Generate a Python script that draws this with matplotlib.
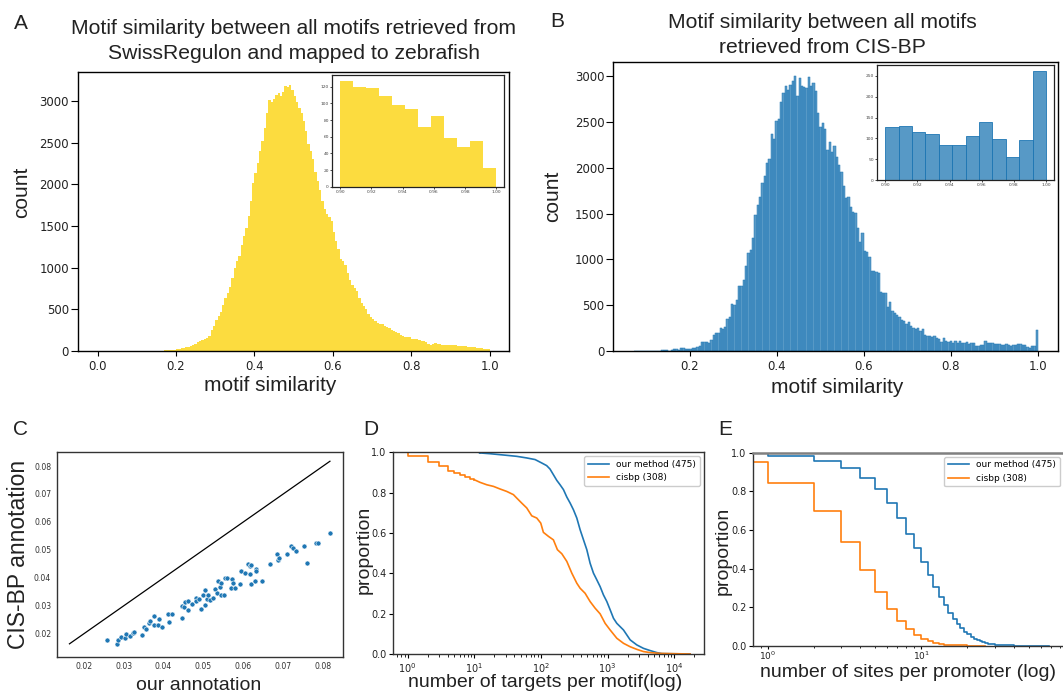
import matplotlib
matplotlib.use('Agg')
import matplotlib.pyplot as plt
import numpy as np

W, H = 1063, 695

# ---------------- data ----------------
# A: SwissRegulon motif similarity histogram (170 bins over 0..1)
sr_counts = [
    0, 0, 0, 0, 0, 0, 0, 0, 0, 0,
    0, 0, 0, 0, 0, 0, 0, 0, 0, 0,
    0, 0, 0, 0, 0, 0, 0, 0, 4, 6,
    10, 12, 14, 17, 20, 24, 30, 36, 44, 52,
    62, 75, 88, 102, 118, 132, 148, 160, 180, 250,
    300, 375, 425, 470, 550, 640, 700, 770, 870, 1000,
    1080, 1140, 1270, 1380, 1470, 1620, 1800, 2010, 2130, 2250,
    2400, 2515, 2680, 2850, 3005, 2990, 3020, 3065, 3090, 3060,
    3110, 3180, 3170, 3185, 3125, 3060, 2990, 2920, 2860, 2760,
    2640, 2480, 2400, 2300, 2145, 2040, 1930, 1800, 1700, 1640,
    1605, 1560, 1430, 1320, 1220, 1100, 1085, 1030, 940, 850,
    790, 760, 720, 630, 580, 540, 505, 440, 405, 385,
    355, 340, 328, 318, 300, 285, 270, 250, 240, 230,
    212, 195, 180, 172, 168, 162, 140, 139, 138, 130,
    124, 115, 104, 82, 76, 78, 92, 86, 82, 76,
    70, 68, 72, 72, 70, 68, 64, 62, 60, 54,
    48, 44, 52, 46, 40, 32, 30, 28, 28, 24,
]
sr_range = (0.0, 1.0)
sr_inset_counts = [127, 120, 118, 109, 98, 93, 72, 85, 58, 48, 55, 22]

# B: CIS-BP motif similarity histogram (174 bins over 0.0705..1)
cb_counts = [
    0, 0, 1, 0, 1, 1, 0, 2, 1, 3,
    2, 4, 8, 11, 11, 5, 10, 22, 22, 10,
    33, 33, 18, 22, 22, 33, 33, 46, 53, 100,
    100, 100, 82, 118, 173, 191, 191, 246, 239, 257,
    344, 366, 508, 497, 555, 709, 709, 775, 928, 1066,
    1102, 1233, 1484, 1593, 1684, 1837, 1910, 2048, 2092, 2368,
    2313, 2510, 2532, 2717, 2812, 2892, 2848, 2903, 2947, 3001,
    2783, 2976, 2892, 2878, 2867, 2987, 2892, 2922, 2838, 2601,
    2448, 2484, 2419, 2193, 2284, 2175, 2237, 2120, 2029, 1957,
    1800, 1666, 1684, 1575, 1513, 1502, 1338, 1193, 1284, 1095,
    1084, 1022, 877, 873, 859, 848, 640, 629, 629, 484,
    535, 436, 411, 393, 375, 338, 327, 295, 313, 277,
    247, 237, 247, 222, 240, 175, 168, 164, 157, 164,
    138, 128, 102, 138, 113, 102, 113, 91, 106, 84,
    106, 87, 84, 95, 73, 84, 84, 58, 58, 69,
    69, 106, 84, 91, 84, 77, 80, 73, 62, 62,
    77, 69, 58, 62, 66, 80, 77, 66, 66, 47,
    36, 58, 55, 229,
]
cb_range = (0.0705, 1.0)
cb_inset_counts = [127, 129, 115, 111, 84, 84, 106, 139, 98, 55, 96, 262]
inset_range = (0.9, 1.0)

# C: our annotation vs CIS-BP annotation
ours = [0.0259, 0.0284, 0.0286, 0.0292, 0.0303, 0.0305, 0.0315, 0.0324, 0.0326, 0.0347,
        0.0351, 0.0357, 0.0363, 0.0367, 0.0375, 0.0376, 0.0386, 0.0388, 0.0395, 0.0411,
        0.0413, 0.0422, 0.0445, 0.0447, 0.0452, 0.0454, 0.0462, 0.0462, 0.0472, 0.0481,
        0.0482, 0.0488, 0.0494, 0.0499, 0.0503, 0.0503, 0.0509, 0.0512, 0.0516, 0.0524,
        0.0529, 0.0533, 0.0537, 0.0541, 0.0543, 0.0543, 0.0551, 0.0553, 0.0558, 0.0569,
        0.0572, 0.0574, 0.0579, 0.0591, 0.0595, 0.0604, 0.0612, 0.0616, 0.0616, 0.0619,
        0.0620, 0.0628, 0.0631, 0.0632, 0.0646, 0.0666, 0.0685, 0.0688, 0.0690, 0.0710,
        0.0720, 0.0725, 0.0731, 0.0752, 0.0760, 0.0782, 0.0788, 0.0817]
cisbp = [0.0176, 0.0164, 0.0176, 0.0188, 0.0184, 0.0200, 0.0193, 0.0202, 0.0206, 0.0194,
         0.0226, 0.0218, 0.0239, 0.0244, 0.0262, 0.0232, 0.0230, 0.0253, 0.0226, 0.0272,
         0.0241, 0.0272, 0.0257, 0.0299, 0.0296, 0.0315, 0.0317, 0.0286, 0.0308, 0.0329,
         0.0317, 0.0325, 0.0287, 0.0337, 0.0304, 0.0355, 0.0325, 0.0337, 0.0320, 0.0328,
         0.0361, 0.0346, 0.0388, 0.0367, 0.0382, 0.0340, 0.0337, 0.0400, 0.0398, 0.0364,
         0.0397, 0.0383, 0.0363, 0.0377, 0.0424, 0.0419, 0.0451, 0.0441, 0.0415, 0.0447,
         0.0379, 0.0389, 0.0433, 0.0425, 0.0389, 0.0451, 0.0484, 0.0463, 0.0471, 0.0487,
         0.0513, 0.0507, 0.0496, 0.0514, 0.0453, 0.0523, 0.0526, 0.0562]

# D: proportion of motifs with more targets than x
d_ours_x = [0.5, 12, 17.3, 30.7, 43.4, 61.3, 81.8, 103, 122, 137, 154, 173, 194, 218, 245,
            275, 308, 346, 388, 436, 489, 548, 615, 690, 775, 869, 977, 1096, 1230, 1380,
            1738, 2188, 2754, 3467, 4365, 5495, 6546, 17400]
d_ours_y = [1.0, 0.997, 0.993, 0.985, 0.98, 0.972, 0.964, 0.947, 0.934, 0.917, 0.889, 0.861,
            0.839, 0.815, 0.778, 0.748, 0.715, 0.674, 0.616, 0.566, 0.517, 0.45, 0.401, 0.368,
            0.334, 0.293, 0.26, 0.219, 0.177, 0.152, 0.119, 0.07, 0.045, 0.028, 0.017, 0.007,
            0.002, 0.0]
d_cis_x = [0.5, 1, 2, 3, 4, 5, 6, 7.3, 8.6, 10, 12.2, 15.4, 19.4, 24.4, 30.7, 38.7, 43.4,
           51.6, 61.3, 72.9, 86.7, 99.5, 109, 130, 154, 177, 206, 245, 291, 346, 388, 461,
           548, 652, 775, 921, 1096, 1380, 1738, 2188, 2754, 3467, 4365, 6166, 17400]
d_cis_y = [1.0, 0.98, 0.95, 0.93, 0.909, 0.897, 0.889, 0.876, 0.869, 0.864, 0.851, 0.839,
           0.831, 0.818, 0.806, 0.79, 0.773, 0.748, 0.724, 0.685, 0.674, 0.649, 0.603, 0.583,
           0.566, 0.517, 0.497, 0.459, 0.401, 0.351, 0.326, 0.301, 0.26, 0.227, 0.199, 0.152,
           0.119, 0.078, 0.053, 0.036, 0.023, 0.012, 0.007, 0.003, 0.0]

# E: proportion of promoters with more sites than x
e_ours_x = [0.5, 1, 2, 3, 4, 5, 6, 7, 8, 9, 10, 11, 12, 13, 14, 15, 16, 17, 18, 19, 20,
            21, 22, 23, 24, 25, 26, 27, 28, 30, 32, 35, 40, 50, 68]
e_ours_y = [0.997, 0.984, 0.959, 0.922, 0.871, 0.81, 0.738, 0.66, 0.579, 0.505, 0.436,
            0.367, 0.307, 0.255, 0.212, 0.172, 0.138, 0.114, 0.091, 0.074, 0.06, 0.048,
            0.038, 0.031, 0.024, 0.019, 0.016, 0.012, 0.0095, 0.007, 0.005, 0.0035, 0.002,
            0.001, 0.0]
e_cis_x = [0.5, 1, 2, 3, 4, 5, 6, 7, 8, 9, 10, 11, 12, 13, 14, 15, 17, 20, 26]
e_cis_y = [0.953, 0.845, 0.698, 0.54, 0.393, 0.279, 0.193, 0.131, 0.086, 0.055, 0.034,
           0.024, 0.016, 0.010, 0.007, 0.004, 0.0026, 0.0014, 0.0]

labels = ['our method (475)', 'cisbp (308)']

# ---------------- styling ----------------
yellow = '#fcdc3f'
blue = '#1f77b4'
orange = '#ff7f0e'
label_font = 'Liberation Sans'

fig = plt.figure(figsize=(W / 100, H / 100), dpi=100)


def add_ax(l, t, r, b):
    return fig.add_axes([l / W, 1 - b / H, (r - l) / W, (b - t) / H])


def ftext(x, y, s, **kw):
    fig.text(x / W, 1 - y / H, s, **kw)


def hist_bars(ax, counts, rng, **kw):
    edges = np.linspace(rng[0], rng[1], len(counts) + 1)
    ax.bar(edges[:-1], counts, width=np.diff(edges), align='edge', **kw)


def style_main(ax):
    for s in ax.spines.values():
        s.set_color('black')
        s.set_linewidth(1.0)
    ax.tick_params(axis='y', length=5, width=0.8, pad=1.5, labelsize=8.5, labelcolor='#222222')
    ax.tick_params(axis='x', length=3.5, width=0.8, pad=3, labelsize=8.5, labelcolor='#222222')


def style_inset(ax, yticks):
    ax.set_xticks([0.90, 0.92, 0.94, 0.96, 0.98, 1.00])
    ax.set_xticklabels(['0.90', '0.92', '0.94', '0.96', '0.98', '1.00'])
    ax.set_yticks(yticks)
    ax.tick_params(length=1.5, width=0.5, pad=1, labelsize=3.2, labelcolor='#444444')
    for s in ax.spines.values():
        s.set_color('#222222')
        s.set_linewidth(0.9)


# ---------------- panel A ----------------
axA = add_ax(78, 71.7, 509.3, 351)
hist_bars(axA, sr_counts, sr_range, color=yellow, linewidth=0)
axA.set_xlim(-0.05, 1.05)
axA.set_ylim(0, 3350)
axA.set_yticks(np.arange(0, 3001, 500))
axA.set_xticks(np.arange(0, 1.01, 0.2))
style_main(axA)

axAi = add_ax(332.3, 75, 504.3, 186.7)
hist_bars(axAi, sr_inset_counts, inset_range, color=yellow, linewidth=0)
axAi.set_xlim(0.895, 1.005)
axAi.set_ylim(0, 134)
style_inset(axAi, np.arange(0, 121, 20))

ftext(293.5, 34.5, 'Motif similarity between all motifs retrieved from', ha='center',
      va='baseline', fontsize=15.2, family=label_font, color='#222222')
ftext(293.5, 59, 'SwissRegulon and mapped to zebrafish', ha='center',
      va='baseline', fontsize=15.2, family=label_font, color='#222222')
ftext(270, 391, 'motif similarity', ha='center', va='baseline', fontsize=15,
      family=label_font, color='#222222')
ftext(22, 192, 'count', ha='center', va='center', rotation=90, fontsize=15,
      family=label_font, color='#222222')

# ---------------- panel B ----------------
axB = add_ax(613.3, 62, 1058.3, 351)
hist_bars(axB, cb_counts, cb_range, facecolor=(31 / 255, 119 / 255, 180 / 255, 0.75),
          edgecolor=blue, linewidth=0.35)
axB.set_xlim(0.024, 1.047)
axB.set_ylim(0, 3153)
axB.set_yticks(np.arange(0, 3001, 500))
axB.set_xticks(np.arange(0.2, 1.01, 0.2))
style_main(axB)

axBi = add_ax(877.3, 65, 1054, 180)
hist_bars(axBi, cb_inset_counts, inset_range, facecolor=(31 / 255, 119 / 255, 180 / 255, 0.75),
          edgecolor=blue, linewidth=0.6)
axBi.set_xlim(0.895, 1.005)
axBi.set_ylim(0, 276)
style_inset(axBi, np.arange(0, 251, 50))

ftext(822, 27.5, 'Motif similarity between all motifs', ha='center', va='baseline',
      fontsize=15.2, family=label_font, color='#222222')
ftext(822, 53, 'retrieved from CIS-BP', ha='center', va='baseline',
      fontsize=15.2, family=label_font, color='#222222')
ftext(837, 393, 'motif similarity', ha='center', va='baseline', fontsize=15,
      family=label_font, color='#222222')
ftext(553, 196, 'count', ha='center', va='center', rotation=90, fontsize=15,
      family=label_font, color='#222222')

# ---------------- panel C ----------------
axC = add_ax(56.7, 452.3, 342.7, 656.7)
lo = min(min(ours), min(cisbp))
hi = max(max(ours), max(cisbp))
axC.plot([lo, hi], [lo, hi], color='black', linewidth=0.9)
axC.scatter(ours, cisbp, s=13, color=blue, edgecolors='white', linewidths=0.4, zorder=3)
axC.set_xlim(0.0132, 0.0849)
axC.set_ylim(0.0118, 0.0849)
ticksC = [0.02, 0.03, 0.04, 0.05, 0.06, 0.07, 0.08]
axC.set_xticks(ticksC)
axC.set_yticks(ticksC)
axC.tick_params(length=0, pad=4, labelsize=5.6, labelcolor='#333333')
for s in axC.spines.values():
    s.set_color('#333333')
    s.set_linewidth(1.0)
ftext(199, 690, 'our annotation', ha='center', va='baseline', fontsize=14,
      family=label_font, color='#222222')
ftext(19, 554, 'CIS-BP annotation', ha='center', va='center', rotation=90, fontsize=16.5,
      family=label_font, color='#222222')


# ---------------- panels D and E ----------------
def style_cdf(ax, pad=2):
    ax.set_xscale('log')
    ax.set_ylim(0, 1)
    ax.tick_params(which='major', length=3, width=0.8, pad=pad, labelsize=7, labelcolor='#222222')
    ax.tick_params(which='minor', length=1.8, width=0.6)
    for s in ax.spines.values():
        s.set_color('#333333')
        s.set_linewidth(1.0)


def survival(ax, xs, ys, n_steps, color, label):
    # integer-valued head drawn as steps, dense tail drawn as a smooth line
    ax.step(xs[:n_steps + 1], ys[:n_steps + 1], where='post', color=color, linewidth=1.2,
            label=label)
    ax.plot(xs[n_steps:], ys[n_steps:], color=color, linewidth=1.2)


axD = add_ax(393.3, 452.3, 704, 654)
survival(axD, d_ours_x, d_ours_y, 1, blue, labels[0])
survival(axD, d_cis_x, d_cis_y, 9, orange, labels[1])
style_cdf(axD)
axD.set_xlim(0.608, 28100)
axD.legend(loc='upper right', fontsize=6.5, borderaxespad=0.45, handlelength=2.4,
           edgecolor='#cccccc', framealpha=1)
ftext(545, 687, 'number of targets per motif(log)', ha='center', va='baseline', fontsize=14,
      family=label_font, color='#222222')
ftext(364, 550, 'proportion', ha='center', va='center', rotation=90, fontsize=14,
      family=label_font, color='#222222')

axE = add_ax(753.3, 452.7, 1064, 646)
axE.step(e_ours_x, e_ours_y, where='post', color=blue, linewidth=1.2, label=labels[0])
axE.step(e_cis_x, e_cis_y, where='post', color=orange, linewidth=1.2, label=labels[1])
style_cdf(axE)
axE.tick_params(axis='x', which='major', length=2, pad=0.5, labelsize=6.5)
axE.tick_params(axis='x', which='minor', length=1.5)
axE.set_xlim(0.806, 85)
axE.spines['top'].set_color('#808080')
axE.spines['top'].set_linewidth(1.8)
axE.legend(loc='upper right', fontsize=6.5, borderaxespad=0.45, handlelength=2.4,
           edgecolor='#cccccc', framealpha=1)
ftext(908, 677, 'number of sites per promoter (log)', ha='center', va='baseline', fontsize=14,
      family=label_font, color='#222222')
ftext(723, 551, 'proportion', ha='center', va='center', rotation=90, fontsize=14,
      family=label_font, color='#222222')

# ---------------- panel letters ----------------
for letter, x, y in [('A', 14, 28.7), ('B', 550.4, 27.2), ('C', 13, 435),
                     ('D', 363, 435), ('E', 718, 435)]:
    ftext(x, y, letter, ha='left', va='baseline', fontsize=15, family=label_font,
          color='#222222')

fig.savefig('out.png', dpi=100)
